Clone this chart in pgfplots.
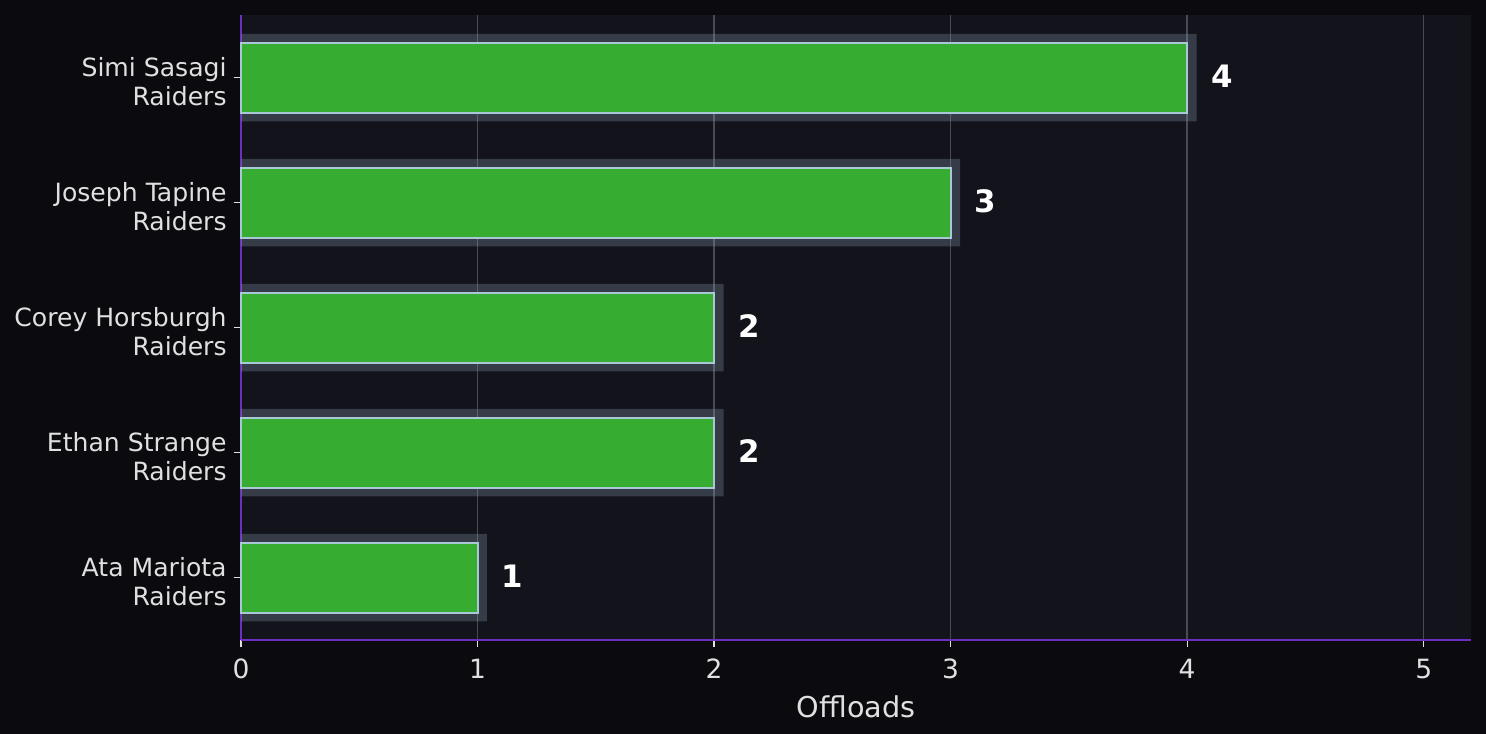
\documentclass[border=0pt]{standalone}
\usepackage{pgfplots}
\usepackage{pgfplotstable}
\pgfplotsset{compat=1.18}
\usepackage{fontspec}
\setmainfont{DejaVu Sans}

\definecolor{figbg}{HTML}{0B0B0F}
\definecolor{axbg}{HTML}{12131B}
\definecolor{spine}{HTML}{6A2FC0}
\definecolor{gridc}{HTML}{4A4B52}
\definecolor{barfill}{HTML}{36AC30}
\definecolor{baredge}{HTML}{A8C8D8}
\definecolor{shade}{HTML}{8A9BB0}
\definecolor{txt}{HTML}{E0E0E0}

\pgfplotstableread{
pos value
0 1
1 2
2 2
3 3
4 4
}\offloads

\begin{document}
\begin{tikzpicture}
\fill[figbg] (-120.5bp,-47bp) rectangle (622.5bp,320bp);
\begin{axis}[
    at={(0,0)}, anchor=south west,
    scale only axis,
    width=615bp, height=312.5bp,
    xmin=0, xmax=5.2,
    ymin=-0.5, ymax=4.5,
    axis background/.style={fill=axbg},
    axis x line*=bottom, axis y line*=left,
    axis line style={spine, line width=0.9bp},
    every inner x axis line/.append style={-},
    every inner y axis line/.append style={-},
    xtick={0,1,2,3,4,5},
    ytick={0,1,2,3,4},
    yticklabels={{Ata Mariota\\Raiders},{Ethan Strange\\Raiders},{Corey Horsburgh\\Raiders},{Joseph Tapine\\Raiders},{Simi Sasagi\\Raiders}},
    yticklabel style={align=right, font=\fontsize{12.6}{14.3}\selectfont, text=txt, inner sep=0pt, xshift=-3.5bp, yshift=-2bp},
    xticklabel style={font=\fontsize{13.3}{15}\selectfont, text=txt, yshift=-2.5bp},
    /pgf/number format/assume math mode=true,
    major tick length=3.5bp,
    tick style={txt, line width=0.6bp},
    tick align=outside,
    xmajorgrids=true,
    grid style={gridc, line width=0.7bp},
    xlabel={Offloads},
    xlabel style={font=\fontsize{14.4}{16}\selectfont, text=txt, yshift=-1.5bp},
    xbar, bar shift=0pt,
    clip=false,
]
\addplot[xbar, bar width=0.7, fill=shade, fill opacity=0.3, draw=none]
    table[x expr=\thisrow{value}+0.04, y=pos] {\offloads};
\addplot[xbar, bar width=0.56, fill=barfill, draw=baredge, line width=1bp,
    nodes near coords,
    every node near coord/.append style={anchor=west, inner sep=0pt, xshift=11.5bp, yshift=0.8bp,
        text=white, font=\fontsize{15.5}{18}\selectfont\bfseries}]
    table[x=value, y=pos] {\offloads};
\end{axis}
\pgfresetboundingbox
\path (-120.5bp,-47bp) rectangle (622.5bp,320bp);
\end{tikzpicture}
\end{document}
